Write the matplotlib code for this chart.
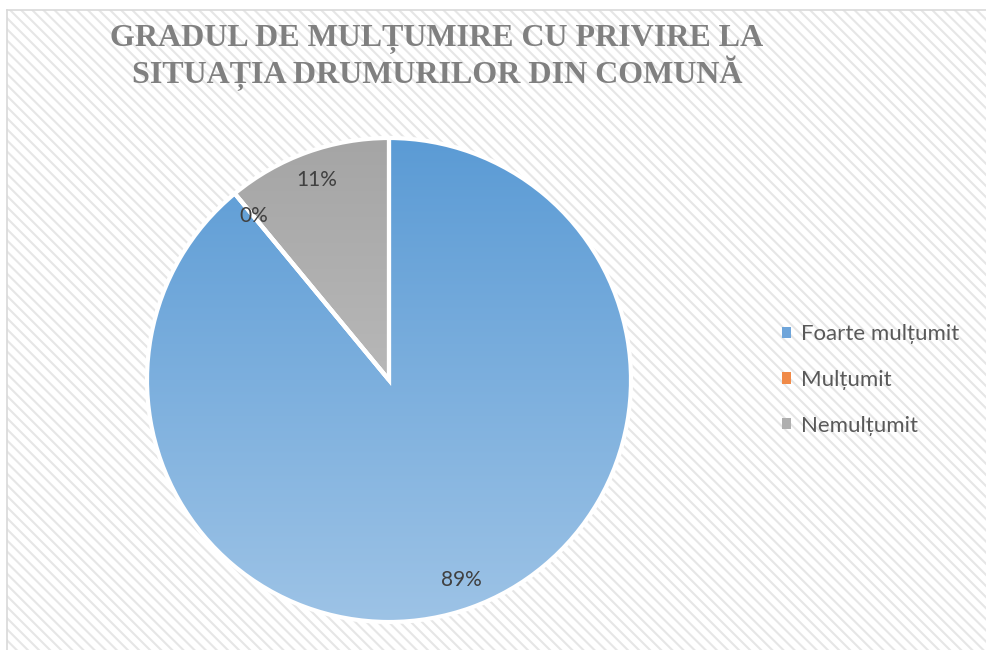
import matplotlib
matplotlib.use("Agg")
import matplotlib.pyplot as plt
import numpy as np
from matplotlib.patches import Rectangle, Patch
from matplotlib.colors import LinearSegmentedColormap

# ---- data ----
categories = ["Foarte mulțumit", "Mulțumit", "Nemulțumit"]
percentages = [89, 0, 11]
title_text = "GRADUL DE MULȚUMIRE CU PRIVIRE LA\nSITUAȚIA DRUMURILOR DIN COMUNĂ"

# ---- styles ----
grad_top = ["#5B9BD5", "#ED7D31", "#A5A5A5"]
grad_bot = ["#9DC3E6", "#F4B183", "#CACACA"]
legend_colors = ["#6FA5DA", "#F08A48", "#AFAFAF"]

W, H = 987, 650
fig = plt.figure(figsize=(W / 100, H / 100), dpi=100)
fig.patch.set_facecolor("white")

# background frame with diagonal hatch
bg = fig.add_axes([0, 0, 1, 1])
bg.set_xlim(0, W)
bg.set_ylim(H, 0)
bg.axis("off")
plt.rcParams["hatch.linewidth"] = 1.5
frame = Rectangle((7, 10), W + 20, H + 20, facecolor="white",
                  edgecolor="#E6E6E6", hatch="\\\\\\", linewidth=0)
bg.add_patch(frame)
bg.plot([7, 7], [10, H], color="#D9D9D9", lw=1.2)
bg.plot([7, W], [10, 10], color="#D9D9D9", lw=1.2)

# title
bg.text(437, 58, title_text, ha="center", va="center",
        family="Liberation Serif", fontweight="bold", fontsize=23,
        color="#808080", linespacing=1.05)

# pie axes: center (389, 380) px, radius 242 px
cx, cy, R = 389, 380, 242
half = 250
ax = fig.add_axes([(cx - half) / W, (H - cy - half) / H, 2 * half / W, 2 * half / H])
ax.set_xlim(-half, half)
ax.set_ylim(-half, half)
ax.set_aspect("equal")
ax.axis("off")

wedges, texts, autotexts = ax.pie(
    percentages, radius=R, startangle=90, counterclock=False,
    autopct=lambda p: f"{p:.0f}%", pctdistance=0.88,
    colors=["none"] * 3,
    wedgeprops=dict(edgecolor="white", linewidth=3),
    textprops=dict(family="Lato", fontsize=15, color="#404040"))

grad = np.linspace(0, 1, 256).reshape(-1, 1)
for w, c0, c1 in zip(wedges, grad_top, grad_bot):
    cmap = LinearSegmentedColormap.from_list("g", [c0, c1])
    im = ax.imshow(grad, cmap=cmap, extent=[-R, R, -R, R], origin="upper",
                   aspect="auto", zorder=w.get_zorder() - 0.5)
    im.set_clip_path(w)
    w.set_zorder(w.get_zorder() + 1)
for t in autotexts:
    t.set_zorder(10)

ax.set_xlim(-half, half)
ax.set_ylim(-half, half)

handles = [Patch(facecolor=c, edgecolor="none") for c in legend_colors]
leg = fig.legend(handles, categories, loc="center left",
                 bbox_to_anchor=(762 / W, 1 - 380 / H), frameon=False,
                 prop=dict(family="Lato", size=16), labelcolor="#595959",
                 handlelength=0.42, handleheight=0.42, handletextpad=0.45,
                 labelspacing=1.15)

fig.savefig("out.png", dpi=100)
